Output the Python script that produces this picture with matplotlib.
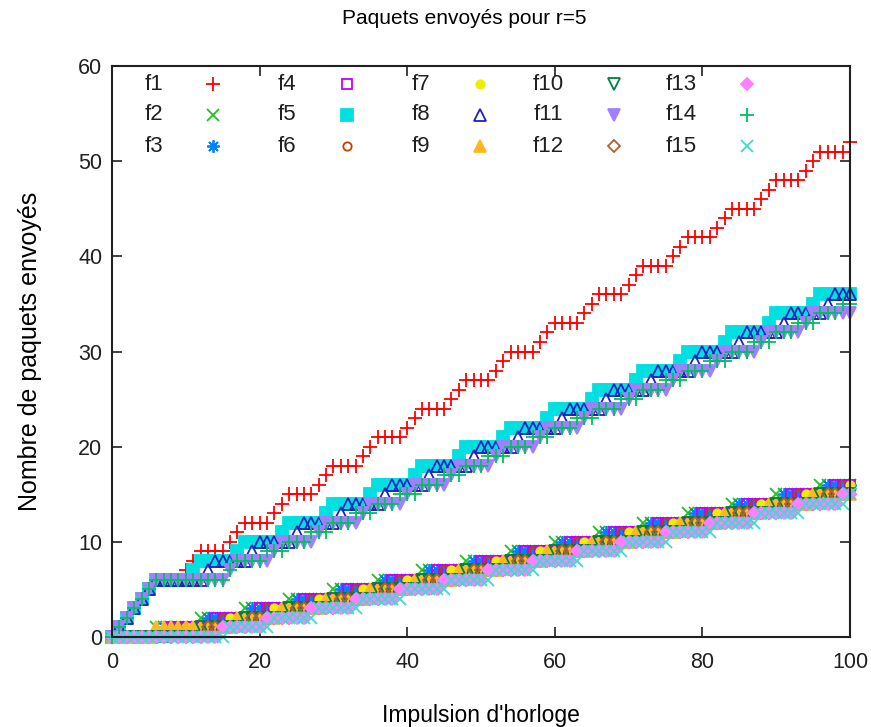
import numpy as np
import matplotlib
matplotlib.use('Agg')
import matplotlib.pyplot as plt

plt.rcParams['font.family'] = ['Liberation Sans', 'DejaVu Sans']

# clock impulses
ticks = list(range(0, 101))

f1_sends = [1, 2, 3, 4, 5, 6, 10, 11, 12, 16, 17, 18, 22, 23, 24, 28, 29, 30,
            34, 35, 36, 40, 41, 42, 46, 47, 48, 52, 53, 54, 58, 59, 60, 64, 65, 66,
            70, 71, 72, 76, 77, 78, 82, 83, 84, 88, 89, 90, 94, 95, 96, 100]
f2_sends = [6, 12, 18, 24, 30, 36, 42, 48, 54, 60, 66, 72, 78, 84, 90, 96]
f3_sends = [7, 13, 19, 25, 31, 37, 43, 49, 55, 61, 67, 73, 79, 85, 91, 97]
f4_sends = [8, 14, 20, 26, 32, 38, 44, 50, 56, 62, 68, 74, 80, 86, 92, 98]
f5_sends = [1, 2, 3, 4, 5, 6, 11, 12, 17, 18, 23, 24, 29, 30, 35, 36, 41, 42,
            47, 48, 53, 54, 59, 60, 65, 66, 71, 72, 77, 78, 83, 84, 89, 90, 95, 96]
f6_sends = [9, 15, 21, 27, 33, 39, 45, 51, 57, 63, 69, 75, 81, 87, 93, 99]
f7_sends = [10, 16, 22, 28, 34, 40, 46, 52, 58, 64, 70, 76, 82, 88, 94, 100]
f8_sends = [1, 2, 3, 4, 5, 6, 13, 14, 19, 20, 25, 26, 31, 32, 37, 38, 43, 44,
            49, 50, 55, 56, 61, 62, 67, 68, 73, 74, 79, 80, 85, 86, 91, 92, 97, 98]
f9_sends = [6, 17, 23, 29, 35, 41, 47, 53, 59, 65, 71, 77, 83, 89, 95]
f10_sends = [12, 18, 24, 30, 36, 42, 48, 54, 60, 66, 72, 78, 84, 90, 96]
f11_sends = [1, 2, 3, 4, 5, 6, 16, 17, 22, 23, 28, 29, 34, 35, 40, 41, 46, 47,
             52, 53, 58, 59, 64, 65, 70, 71, 76, 77, 82, 83, 88, 89, 94, 95]
f12_sends = [13, 19, 25, 31, 37, 43, 49, 55, 61, 67, 73, 79, 85, 91, 97]
f13_sends = [15, 21, 27, 33, 39, 45, 51, 57, 63, 69, 75, 81, 87, 93, 99]
f14_sends = [1, 2, 3, 4, 5, 6, 16, 17, 21, 24, 27, 30, 33, 36, 39, 42, 45, 48,
             51, 54, 57, 60, 63, 66, 69, 72, 75, 78, 81, 84, 87, 90, 93, 96, 99]
f15_sends = [16, 22, 28, 34, 40, 46, 52, 58, 64, 70, 76, 82, 88, 94, 100]

flows = [f1_sends, f2_sends, f3_sends, f4_sends, f5_sends, f6_sends, f7_sends,
         f8_sends, f9_sends, f10_sends, f11_sends, f12_sends, f13_sends,
         f14_sends, f15_sends]
names = ['f%d' % (i + 1) for i in range(15)]

# gnuplot-like point types: (marker, colour, filled, size)
styles = [
    ('+', '#ff0000', False, 10),
    ('x', '#20c020', False, 8),
    ((8, 2, 0), '#0080ff', False, 9),
    ('s', '#c000ff', False, 7),
    ('s', '#00e0e0', True, 8.5),
    ('o', '#c04000', False, 6),
    ('o', '#eeee00', True, 6),
    ('^', '#2020c0', False, 9),
    ('^', '#ffb820', True, 9),
    ('v', '#008040', False, 9),
    ('v', '#a080ff', True, 9),
    ('D', '#b06030', False, 6),
    ('D', '#ff80ff', True, 6.5),
    ('+', '#00c060', False, 10),
    ('x', '#40d8d0', False, 8),
]

fig = plt.figure(figsize=(8.71, 7.27), dpi=100)
ax = fig.add_axes([112 / 871, 1 - 637 / 727, (850 - 112) / 871, (637 - 66) / 727])

t = np.array(ticks)
for sends, name, (mk, col, filled, ms) in zip(flows, names, styles):
    counts = np.searchsorted(np.array(sends), t, side='right')
    ax.plot(t, counts, linestyle='none', marker=mk, markersize=ms,
            color=col, markerfacecolor=col if filled else 'none',
            markeredgewidth=1.3, clip_on=False, label=name)

ax.set_xlim(0, 100)
ax.set_ylim(0, 60)
ax.set_xticks([0, 20, 40, 60, 80, 100])
ax.set_yticks([0, 10, 20, 30, 40, 50, 60])
ax.tick_params(direction='in', length=7, width=1.2, top=True, right=True,
               labelsize=15.5, colors='#202020')
ax.tick_params(axis='x', pad=11)
ax.tick_params(axis='y', pad=7)
for sp in ax.spines.values():
    sp.set_linewidth(1.5)
    sp.set_color('#202020')

ax.set_xlabel("Impulsion d'horloge", fontsize=16.5, labelpad=22)
ax.set_ylabel('Nombre de paquets envoyés', fontsize=18, labelpad=26)
fig.text(464 / 871, 1 - 19 / 727, 'Paquets envoyés pour r=5',
         ha='center', va='center', fontsize=15)

# key laid out like gnuplot: 3 rows x 5 columns, label right-justified then sample
for i, (name, (mk, col, filled, ms)) in enumerate(zip(names, styles)):
    c, r = divmod(i, 3)
    xtxt = (163 + 133.5 * c - 112) / 738
    xmk = (213 + 133.5 * c - 112) / 738
    y = (637 - (84 + 31 * r)) / 571
    ax.text(xtxt, y, name, transform=ax.transAxes, ha='right', va='center',
            fontsize=16, color='#202020')
    ax.plot([xmk], [y], transform=ax.transAxes, linestyle='none', marker=mk,
            markersize=ms, color=col, markerfacecolor=col if filled else 'none',
            markeredgewidth=1.3, clip_on=False)

fig.savefig('out.png', dpi=100)
